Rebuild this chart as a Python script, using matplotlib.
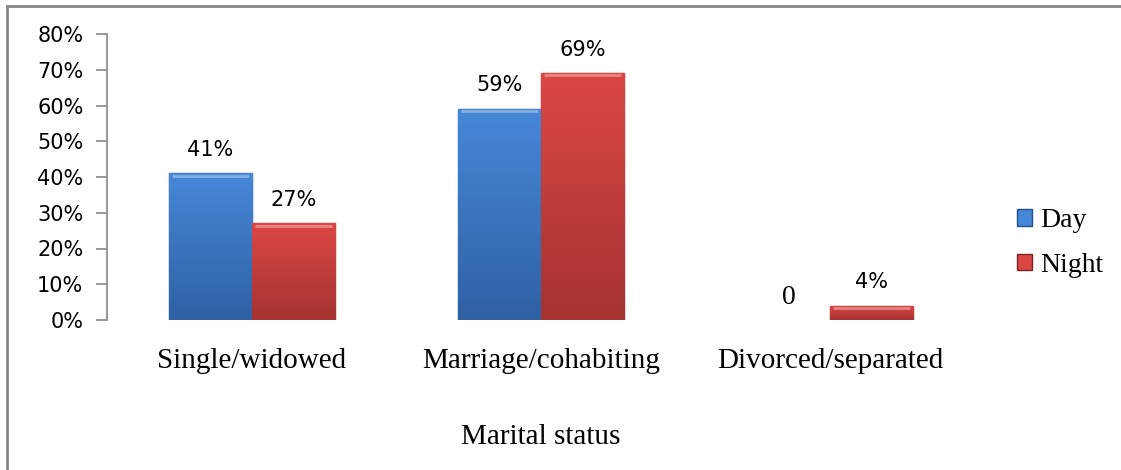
import numpy as np
import matplotlib
matplotlib.use("Agg")
import matplotlib.pyplot as plt
from matplotlib.colors import LinearSegmentedColormap
from matplotlib.patches import Patch
from matplotlib.lines import Line2D

# data
categories = ["Single/widowed", "Marriage/cohabiting", "Divorced/separated"]
day = [0.41, 0.59, 0.0]
night = [0.27, 0.69, 0.04]
day_labels = ["41%", "59%", "0"]
night_labels = ["27%", "69%", "4%"]
yticks = [0, 0.1, 0.2, 0.3, 0.4, 0.5, 0.6, 0.7, 0.8]

blue_top, blue_bot, blue_edge = "#4687d8", "#2f61a3", "#24508a"
red_top, red_bot, red_edge = "#db4745", "#a53331", "#7a2422"

fig = plt.figure(figsize=(11.21, 4.70), dpi=100)
ax = fig.add_axes([107 / 1121, 1 - 320 / 470, (975 - 107) / 1121, (320 - 34) / 470])

x = np.arange(len(categories))
w = 0.287


def gradient_bars(xpos, vals, c_top, c_bot, c_edge):
    bars = ax.bar(xpos, vals, width=w, color=c_bot, edgecolor=c_edge,
                  linewidth=1.0, zorder=2)
    cmap = LinearSegmentedColormap.from_list("g", [c_bot, c_top])
    grad = np.linspace(0, 1, 100).reshape(-1, 1)
    for b in bars:
        h = b.get_height()
        if h <= 0:
            b.set_edgecolor("none")
            continue
        x0 = b.get_x()
        im = ax.imshow(grad, extent=[x0, x0 + w, 0, h], origin="lower",
                       aspect="auto", cmap=cmap, zorder=2.5)
        im.set_clip_path(b)
        # light bevel along the top edge
        ax.plot([x0 + 0.01, x0 + w - 0.01], [h - 0.006, h - 0.006],
                color="white", alpha=0.35, lw=2, zorder=3,
                solid_capstyle="butt")
    return bars


gradient_bars(x - w / 2, day, blue_top, blue_bot, blue_edge)
gradient_bars(x + w / 2, night, red_top, red_bot, red_edge)

# value labels
for i in range(len(categories)):
    for xp, v, lab in [(x[i] - w / 2, day[i], day_labels[i]),
                       (x[i] + w / 2, night[i], night_labels[i])]:
        if lab == "0":
            ax.text(xp, v + 0.062, lab, ha="center", va="center",
                    fontsize=20, family="Liberation Serif")
        else:
            ax.text(xp, v + 0.066, lab, ha="center", va="center",
                    fontsize=15, family="DejaVu Sans")

ax.set_xlim(-0.5, 2.5)
ax.set_ylim(0, 0.8)
ax.set_yticks(yticks)
ax.set_yticklabels([f"{int(round(t * 100))}%" for t in yticks],
                   fontsize=15, family="DejaVu Sans")
ax.set_xticks(x)
ax.set_xticklabels(categories, fontsize=21, family="Liberation Serif")
ax.tick_params(axis="x", length=0, pad=20)
ax.tick_params(axis="y", direction="out", length=8, color="#888888",
               width=1.2, pad=9)
for s in ["top", "right", "bottom"]:
    ax.spines[s].set_visible(False)
ax.spines["left"].set_color("#888888")
ax.spines["left"].set_linewidth(1.2)

ax.set_xlabel("Marital status", fontsize=21, family="Liberation Serif",
              labelpad=36)

handles = [Patch(facecolor=blue_top, edgecolor=blue_edge, label="Day"),
           Patch(facecolor=red_top, edgecolor=red_edge, label="Night")]
fig.legend(handles=handles, loc="center left",
           bbox_to_anchor=(1003 / 1121, 1 - 243 / 470), frameon=False,
           prop={"family": "Liberation Serif", "size": 20},
           handlelength=0.55, handleheight=0.55, handletextpad=0.3,
           labelspacing=0.7, borderpad=0)

# chart area border (left and top only visible)
fig.add_artist(Line2D([7 / 1121, 7 / 1121], [0, 1 - 6 / 470],
                      transform=fig.transFigure, color="#888888", lw=2))
fig.add_artist(Line2D([7 / 1121, 1], [1 - 6 / 470, 1 - 6 / 470],
                      transform=fig.transFigure, color="#888888", lw=2))

fig.savefig("out.png", dpi=100)
